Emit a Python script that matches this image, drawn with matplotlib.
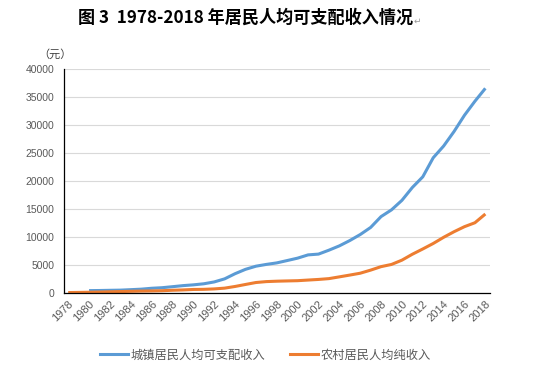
import matplotlib
matplotlib.use('Agg')
import matplotlib.pyplot as plt
from matplotlib.lines import Line2D

plt.rcParams['font.family'] = ['Noto Sans CJK SC', 'DejaVu Sans']

years_urban = list(range(1980, 2019))
urban = [480, 500, 535, 565, 650, 740, 900, 1000, 1180, 1370,
         1510, 1700, 2030, 2580, 3500, 4280, 4840, 5160, 5430, 5850,
         6280, 6860, 7000, 7700, 8470, 9420, 10490, 11760, 13700, 14900,
         16600, 18900, 20800, 24200, 26300, 28900, 31800, 34300, 36600]

years_rural = list(range(1978, 2019))
rural = [134, 160, 191, 223, 270, 310, 355, 398, 424, 463,
         545, 602, 686, 709, 784, 922, 1221, 1578, 1926, 2090,
         2162, 2210, 2253, 2366, 2476, 2622, 2936, 3255, 3587, 4140,
         4761, 5153, 5919, 6977, 7917, 8896, 10000, 11000, 11900, 12600,
         14160]

labels = ['城镇居民人均可支配收入', '农村居民人均纯收入']
blue = '#5B9BD5'
orange = '#ED7D31'

fig = plt.figure(figsize=(5.5, 3.67), dpi=100)
ax = fig.add_axes([0.1164, 0.2008, 0.7746, 0.6104])

ax.plot(years_urban, urban, color=blue, lw=2.2, solid_capstyle='butt')
ax.plot(years_rural, rural, color=orange, lw=2.2, solid_capstyle='butt')

ax.set_ylim(0, 40000)
ax.set_xlim(1977.6, 2018.45)
ax.set_yticks(range(0, 40001, 5000))
ax.set_xticks(range(1978, 2019, 2))
ax.set_xticklabels([str(y) for y in range(1978, 2019, 2)], rotation=45,
                   ha='right', rotation_mode='anchor',
                   fontsize=8, color='#595959', family='Liberation Sans')
for t in ax.get_yticklabels():
    t.set_fontsize(7.5)
    t.set_color('#595959')
    t.set_family('Liberation Sans')
ax.tick_params(length=0, pad=4)
ax.tick_params(axis='y', pad=7)
ax.grid(axis='y', color='#d9d9d9', lw=0.8)
ax.set_axisbelow(True)
for s in ['top', 'right']:
    ax.spines[s].set_visible(False)
ax.spines['left'].set_color('black')
ax.spines['bottom'].set_color('black')
ax.spines['left'].set_linewidth(0.9)
ax.spines['bottom'].set_linewidth(0.9)

fig.text(0.1, 0.852, '（元）', fontsize=8, color='#404040', ha='center', va='center')

fig.text(0.447, 0.952, '图 3  1978-2018 年居民人均可支配收入情况', fontsize=12.3,
         fontweight='bold', ha='center', va='center')
fig.text(0.752, 0.943, '↵', fontsize=6.5, color='#9a9a9a', ha='left', va='center',
         family=['DejaVu Sans'])

handles = [Line2D([], [], color=blue, lw=2.2), Line2D([], [], color=orange, lw=2.2)]
fig.legend(handles, labels, loc='center', bbox_to_anchor=(0.483, 0.033), ncol=2,
           frameon=False, fontsize=8.8, handlelength=2.3, handletextpad=0.2,
           columnspacing=2.0, labelcolor='#595959')

fig.savefig('out.png', dpi=100)
